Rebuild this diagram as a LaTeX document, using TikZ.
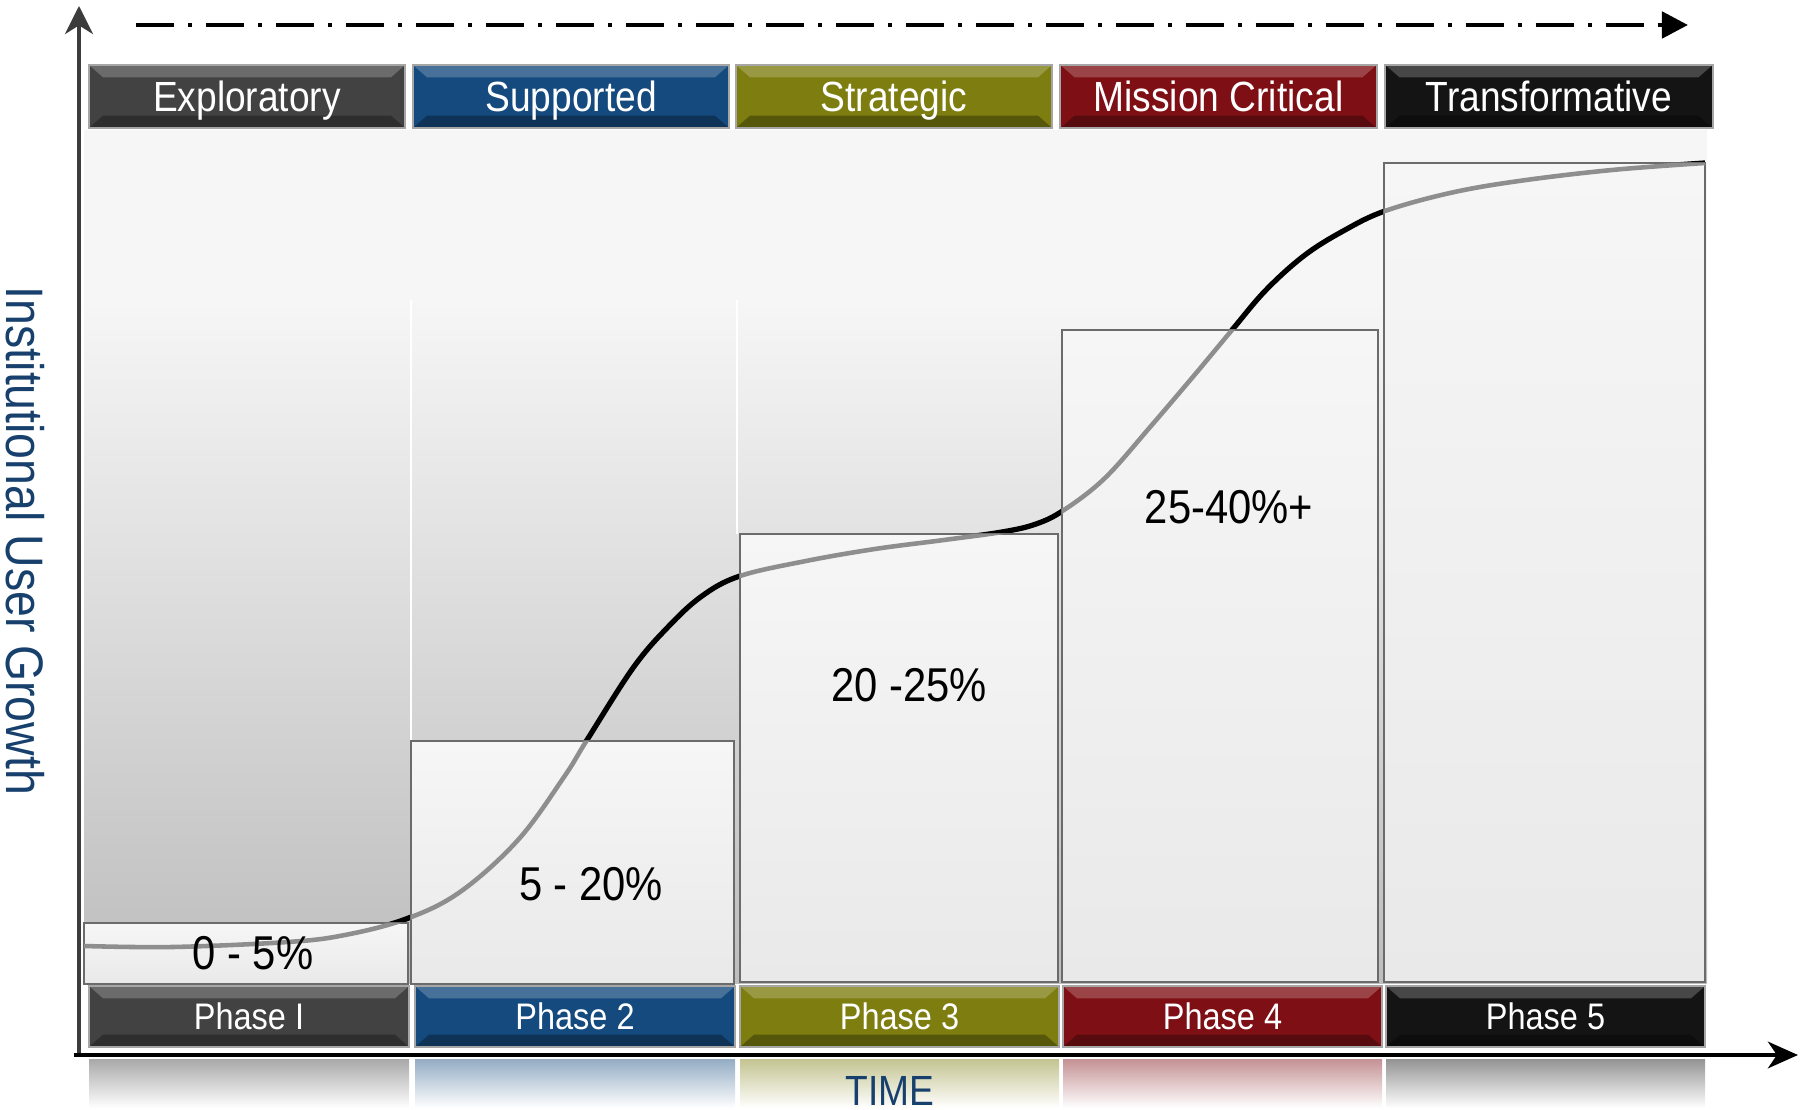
\documentclass[tikz,border=0pt]{standalone}
\usepackage{fontspec}
\usepackage{tikz}
\usetikzlibrary{arrows.meta,%
                shapes,positioning}
\newfontfamily\chartfont{Liberation Sans}[FakeStretch=0.88]
\definecolor{phaseone}{HTML}{424242}
\definecolor{phasetwo}{HTML}{154A7E}
\definecolor{phasethree}{HTML}{7D7D10}
\definecolor{phasefour}{HTML}{7E1015}
\definecolor{phasefive}{HTML}{141414}
\definecolor{axisblue}{HTML}{17406D}
\definecolor{axisgray}{HTML}{3C3C3C}
\definecolor{backlight}{HTML}{F6F6F6}
\definecolor{backdark}{HTML}{BDBDBD}
\definecolor{barline}{HTML}{6B6B6B}
\definecolor{bartop}{HTML}{F6F6F6}
\definecolor{barbottom}{HTML}{E9E9E9}
\definecolor{curvegray}{HTML}{8E8E8E}
\newcommand\growthcurve{plot[smooth, tension=0.6] coordinates {(84,946) (173,947) (288,942) (345,935) (406,919)
  (460,892) (518,840) (564,777) (587,740) (633,668) (668,627) (702,596) (740,576) (806,561)
  (875,549) (944,540) (1002,532) (1036,524) (1064,510) (1105,478) (1151,426) (1197,372)
  (1232,330) (1266,290) (1305,255) (1345,230) (1385,211) (1450,193) (1519,181) (1612,170) (1705,163)}}

\begin{document}
\begin{tikzpicture}[x=0.01cm,y=-0.01cm,
  bevel/.style={path picture={
    \fill[white,opacity=0.22] (path picture bounding box.north west) -- (path picture bounding box.north east)
      -- ([xshift=-4pt,yshift=-3.5pt]path picture bounding box.north east) -- ([xshift=4pt,yshift=-3.5pt]path picture bounding box.north west) -- cycle;
    \fill[black,opacity=0.3] (path picture bounding box.south west) -- (path picture bounding box.south east)
      -- ([xshift=-4pt,yshift=3.5pt]path picture bounding box.south east) -- ([xshift=4pt,yshift=3.5pt]path picture bounding box.south west) -- cycle;}},
  tagbox/.style={fill=#1, draw=gray!70, line width=0.6pt, text=white, inner sep=0pt,
    minimum width=3.16cm, minimum height=0.63cm, bevel, text height=8.6pt, text depth=0pt,
    font=\chartfont\fontsize{12}{14}\selectfont},
  phasebox/.style={tagbox=#1, minimum width=3.19cm, minimum height=0.61cm, text height=7.5pt,
    font=\chartfont\fontsize{10.5}{12}\selectfont},
  bar/.style={top color=bartop, bottom color=barbottom, draw=barline, line width=0.75pt},
  pct/.style={font=\chartfont\fontsize{13.5}{16}\selectfont, text=black},
  reflect/.style={top color=#1!45!white, bottom color=white, draw=none},
  growth/.style={line width=1.5pt, black},
  yaxis/.style={draw=axisgray, line width=1pt, -{Stealth[length=8pt,width=8pt,inset=2.5pt]}},
  xaxis/.style={draw=black, line width=1.4pt, -{Stealth[length=8.5pt,width=7.5pt,inset=2.5pt]}},
  timeline/.style={draw=black, line width=1.4pt, dash pattern=on 10.8pt off 4pt on 1.1pt off 4pt,
    -{Triangle[length=7.4pt,width=7.4pt]}},
  axislabel/.style={text=axisblue, inner sep=0pt}]
\useasboundingbox (0,0) rectangle (1805,1110);

% backdrop
\fill[backlight] (84,130) rectangle (1707,300);
\shade[top color=backlight, bottom color=backdark] (84,300) rectangle (1707,984);
\draw[white, line width=0.8pt] (411,300) -- (411,741);
\draw[white, line width=0.8pt] (737,300) -- (737,534);

% growth curve, bars, then the part of the curve that lies in the bars
\draw[growth] \growthcurve;
\shadedraw[bar] (84,923) rectangle (408,984);
\shadedraw[bar] (411,741) rectangle (734,984);
\shadedraw[bar] (740,534) rectangle (1058,982);
\shadedraw[bar] (1062,330) rectangle (1378,982);
\shadedraw[bar] (1384,163) rectangle (1705,982);
\begin{scope}
  \clip (84,923) rectangle (408,984) (411,741) rectangle (734,984) (740,534) rectangle (1058,982)
        (1062,330) rectangle (1378,982) (1384,163) rectangle (1708,982);
  \draw[growth, curvegray, line width=1.3pt] \growthcurve;
\end{scope}

\node[pct] (pctone) at (253,953) {0 - 5\%};
\node[pct] (pcttwo) at (591,884) {5 - 20\%};
\node[pct] (pctthree) at (909,685) {20 -25\%};
\node[pct] (pctfour) at (1229,507) {25-40\%+};

% stage tags
\node[tagbox=phaseone] (explor) at (247,96.5) {Exploratory};
\node[tagbox=phasetwo] (suppor) at (571,96.5) {Supported};
\node[tagbox=phasethree] (strate) at (894,96.5) {Strategic};
\node[tagbox=phasefour] (missio) at (1218.5,96.5) {Mission Critical};
\node[tagbox=phasefive, minimum width=3.27cm] (transf) at (1549,96.5) {Transformative};

% phase tags
\node[phasebox=phaseone, minimum width=3.2cm] (phone) at (249,1016.5) {Phase I};
\node[phasebox=phasetwo, minimum width=3.2cm] (phtwo) at (575,1016.5) {Phase 2};
\node[phasebox=phasethree] (phthree) at (899.5,1016.5) {Phase 3};
\node[phasebox=phasefour] (phfour) at (1222.5,1016.5) {Phase 4};
\node[phasebox=phasefive] (phfive) at (1545.5,1016.5) {Phase 5};

% reflections
\shade[reflect=phaseone] (89,1060) rectangle (409,1108);
\shade[reflect=phasetwo] (415,1060) rectangle (735,1108);
\shade[reflect=phasethree] (740,1060) rectangle (1059,1108);
\shade[reflect=phasefour] (1063,1060) rectangle (1382,1108);
\shade[reflect=phasefive] (1386,1060) rectangle (1705,1108);

% axes
\coordinate (origin) at (79,1055);
\coordinate (ytop) at (79,6);
\coordinate (xstart) at (74,1055);
\coordinate (xend) at (1798,1055);
\coordinate (tstart) at (136,25);
\coordinate (tend) at (1688,25);
\draw[yaxis] (origin) -- (ytop);
\draw[xaxis] (xstart) -- (xend);
\draw[timeline] (tstart) -- (tend);

\node[axislabel, font=\chartfont\fontsize{12}{14}\selectfont] (timelbl) at (890,1091) {TIME};
\node[axislabel, rotate=-90, font=\chartfont\fontsize{15}{18}\selectfont] (growthlbl) at (25,541) {Institutional User Growth};
\end{tikzpicture}
\end{document}
